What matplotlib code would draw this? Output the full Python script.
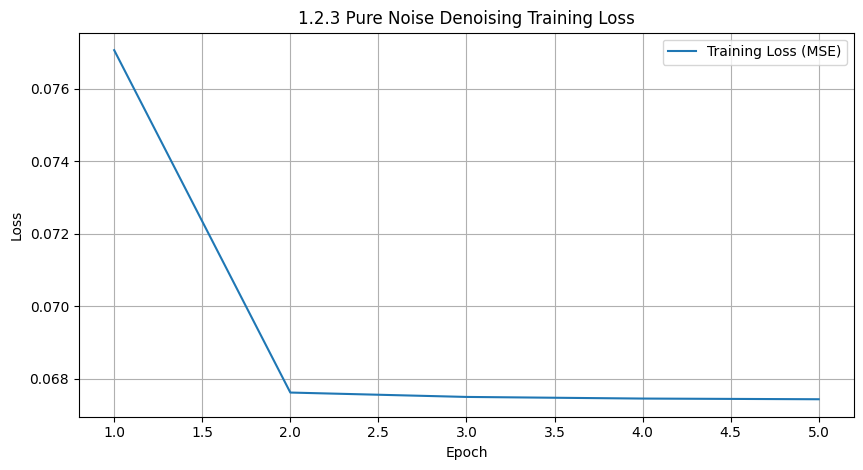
import matplotlib
matplotlib.use("Agg")
import matplotlib.pyplot as plt

epochs = [1, 2, 3, 4, 5]
loss = [0.07707, 0.067614, 0.067493, 0.067448, 0.067429]

fig = plt.figure(figsize=(8.63, 4.70), dpi=100)
ax = fig.add_axes([0.0915, 0.1134, 0.898, 0.817])
ax.plot(epochs, loss, label="Training Loss (MSE)")
ax.set_title("1.2.3 Pure Noise Denoising Training Loss")
ax.set_xlabel("Epoch")
ax.set_ylabel("Loss")
ax.grid(True)
ax.legend(loc="upper right")
fig.savefig("out.png", dpi=100)
